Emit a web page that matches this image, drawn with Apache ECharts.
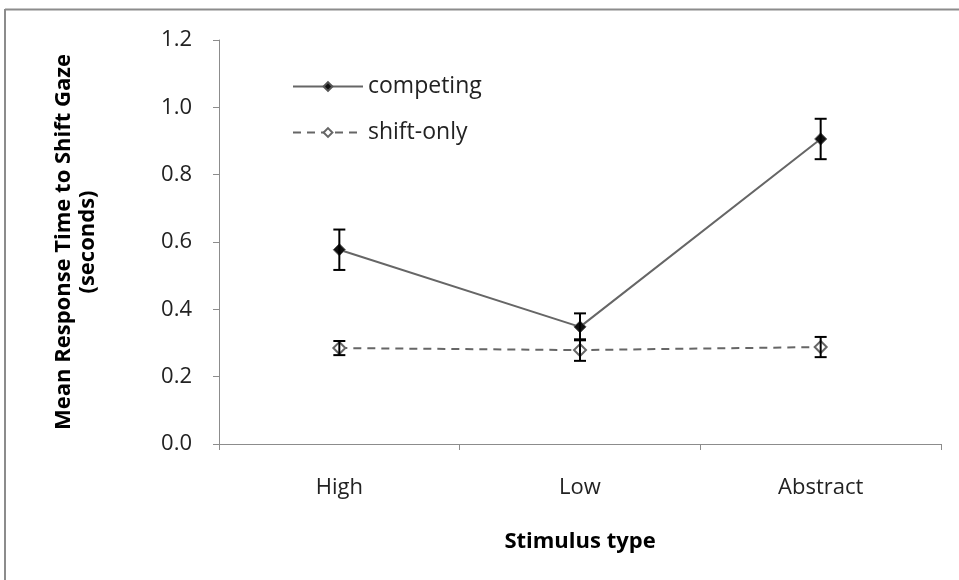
<!DOCTYPE html>
<html>
<head>
<meta charset="utf-8">
<script src="https://cdn.jsdelivr.net/npm/echarts@6/dist/echarts.min.js"></script>
<style>
html,body{margin:0;padding:0;background:#fff;}
#chart{width:959px;height:580px;}
</style>
</head>
<body>
<div id="chart"></div>
<script>
var categories = ['High', 'Low', 'Abstract'];
var competing = [0.577, 0.348, 0.906];
var competingErr = [0.06, 0.04, 0.06];
var shiftOnly = [0.285, 0.279, 0.288];
var shiftOnlyErr = [0.021, 0.032, 0.03];
var yTicks = [0.0, 0.2, 0.4, 0.6, 0.8, 1.0, 1.2];

var FONT = 'Open Sans';

function errData(vals, errs) {
  return vals.map(function (v, i) { return [i, v - errs[i], v + errs[i]]; });
}
function errRender(params, api) {
  var x = api.value(0);
  var lo = api.coord([x, api.value(1)]);
  var hi = api.coord([x, api.value(2)]);
  var half = 6;
  var style = { stroke: '#000', lineWidth: 2, fill: null };
  return {
    type: 'group',
    children: [
      { type: 'line', shape: { x1: lo[0], y1: lo[1], x2: hi[0], y2: hi[1] }, style: style },
      { type: 'line', shape: { x1: lo[0] - half, y1: lo[1], x2: lo[0] + half, y2: lo[1] }, style: style },
      { type: 'line', shape: { x1: hi[0] - half, y1: hi[1], x2: hi[0] + half, y2: hi[1] }, style: style }
    ]
  };
}

var chart = echarts.init(document.getElementById('chart'));
chart.setOption({
  animation: false,
  backgroundColor: '#fff',
  graphic: [
    { type: 'line', shape: { x1: 5, y1: 9.5, x2: 959, y2: 9.5 }, style: { stroke: '#8c8c8c', lineWidth: 2 } },
    { type: 'line', shape: { x1: 5, y1: 9, x2: 5, y2: 580 }, style: { stroke: '#8c8c8c', lineWidth: 2 } }
  ],
  grid: { left: 219, right: 18, top: 40, bottom: 136 },
  legend: {
    orient: 'vertical',
    left: 287,
    top: 70,
    itemWidth: 70,
    itemHeight: 11,
    itemGap: 23,
    data: ['competing', 'shift-only'],
    textStyle: { fontFamily: FONT, fontSize: 23, color: '#222' }
  },
  xAxis: {
    type: 'category',
    data: categories,
    boundaryGap: true,
    axisLine: { lineStyle: { color: '#8c8c8c', width: 1 } },
    axisTick: { show: true, alignWithLabel: false, length: 6, lineStyle: { color: '#8c8c8c' } },
    axisLabel: { margin: 33, fontFamily: FONT, fontSize: 22, color: '#222' },
    name: 'Stimulus type',
    nameLocation: 'middle',
    nameGap: 87,
    nameTextStyle: { fontFamily: FONT, fontSize: 22, fontWeight: 'bold', color: '#000' }
  },
  yAxis: {
    type: 'value',
    min: 0,
    max: 1.2,
    interval: 0.2,
    splitLine: { show: false },
    axisLine: { show: true, lineStyle: { color: '#8c8c8c', width: 1 } },
    axisTick: { show: true, inside: false, length: 6, lineStyle: { color: '#8c8c8c' } },
    axisLabel: {
      margin: 27, fontFamily: FONT, fontSize: 22, color: '#222',
      formatter: function (v) { return v.toFixed(1); }
    },
    name: 'Mean Response Time to Shift Gaze\n(seconds)',
    nameLocation: 'middle',
    nameGap: 119,
    nameRotate: 90,
    nameTextStyle: { fontFamily: FONT, fontSize: 22, fontWeight: 'bold', color: '#000', lineHeight: 24 }
  },
  series: [
    {
      name: 'competing',
      type: 'line',
      data: competing,
      symbol: 'diamond',
      symbolSize: 12,
      lineStyle: { color: '#666', width: 2 },
      itemStyle: { color: '#111', borderColor: '#555', borderWidth: 1 },
      z: 3
    },
    {
      name: 'shift-only',
      type: 'line',
      data: shiftOnly,
      symbol: 'diamond',
      symbolSize: 12,
      lineStyle: { color: '#666', width: 2, type: [8, 6] },
      itemStyle: { color: '#fff', borderColor: '#666', borderWidth: 2 },
      z: 3
    },
    {
      type: 'custom',
      data: errData(competing, competingErr),
      renderItem: errRender,
      encode: { x: 0, y: [1, 2] },
      z: 4,
      silent: true
    },
    {
      type: 'custom',
      data: errData(shiftOnly, shiftOnlyErr),
      renderItem: errRender,
      encode: { x: 0, y: [1, 2] },
      z: 4,
      silent: true
    }
  ]
});
</script>
</body>
</html>
